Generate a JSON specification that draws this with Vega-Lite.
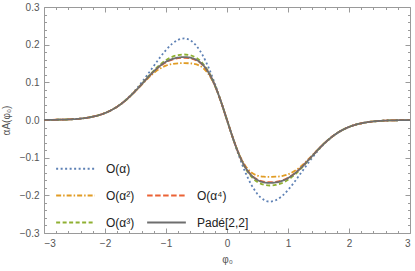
{
  "$schema": "https://vega.github.io/schema/vega-lite/v6.json",
  "width": 366,
  "height": 226,
  "autosize": "none",
  "padding": {"left": 44, "top": 7, "right": 5, "bottom": 38},
  "config": {
    "view": {"stroke": "#9a9a9a", "strokeWidth": 1},
    "axis": {"grid": false, "labelFont": "Liberation Sans", "titleFont": "Liberation Sans", "labelFontSize": 10, "titleFontSize": 10, "labelColor": "#555555", "titleColor": "#555555", "titleFontWeight": "normal", "tickColor": "#9a9a9a", "domain": false},
    "legend": {"labelFont": "Liberation Sans"}
  },
  "data": {"values": [
    {"p":-3,"v":0.0002,"s":"a1"},{"p":-2.8,"v":0.0006,"s":"a1"},{"p":-2.6,"v":0.0015,"s":"a1"},{"p":-2.4,"v":0.0038,"s":"a1"},{"p":-2.3,"v":0.0059,"s":"a1"},{"p":-2.2,"v":0.0088,"s":"a1"},{"p":-2.1,"v":0.0129,"s":"a1"},{"p":-2,"v":0.0185,"s":"a1"},{"p":-1.9,"v":0.026,"s":"a1"},{"p":-1.8,"v":0.0356,"s":"a1"},{"p":-1.7,"v":0.0477,"s":"a1"},{"p":-1.6,"v":0.0625,"s":"a1"},{"p":-1.5,"v":0.0798,"s":"a1"},{"p":-1.4,"v":0.0996,"s":"a1"},{"p":-1.3,"v":0.1211,"s":"a1"},{"p":-1.2,"v":0.1436,"s":"a1"},{"p":-1.1,"v":0.1657,"s":"a1"},{"p":-1,"v":0.1858,"s":"a1"},{"p":-0.9,"v":0.2022,"s":"a1"},{"p":-0.8,"v":0.213,"s":"a1"},{"p":-0.7,"v":0.2166,"s":"a1"},{"p":-0.6,"v":0.2114,"s":"a1"},{"p":-0.5,"v":0.1967,"s":"a1"},{"p":-0.4,"v":0.1721,"s":"a1"},{"p":-0.3,"v":0.1385,"s":"a1"},{"p":-0.2,"v":0.097,"s":"a1"},{"p":-0.1,"v":0.05,"s":"a1"},{"p":0,"v":0,"s":"a1"},
    {"p":0.1,"v":-0.05,"s":"a1"},{"p":0.2,"v":-0.097,"s":"a1"},{"p":0.3,"v":-0.1385,"s":"a1"},{"p":0.4,"v":-0.1721,"s":"a1"},{"p":0.5,"v":-0.1967,"s":"a1"},{"p":0.6,"v":-0.2114,"s":"a1"},{"p":0.7,"v":-0.2166,"s":"a1"},{"p":0.8,"v":-0.213,"s":"a1"},{"p":0.9,"v":-0.2022,"s":"a1"},{"p":1,"v":-0.1858,"s":"a1"},{"p":1.1,"v":-0.1657,"s":"a1"},{"p":1.2,"v":-0.1436,"s":"a1"},{"p":1.3,"v":-0.1211,"s":"a1"},{"p":1.4,"v":-0.0996,"s":"a1"},{"p":1.5,"v":-0.0798,"s":"a1"},{"p":1.6,"v":-0.0625,"s":"a1"},{"p":1.7,"v":-0.0477,"s":"a1"},{"p":1.8,"v":-0.0356,"s":"a1"},{"p":1.9,"v":-0.026,"s":"a1"},{"p":2,"v":-0.0185,"s":"a1"},{"p":2.1,"v":-0.0129,"s":"a1"},{"p":2.2,"v":-0.0088,"s":"a1"},{"p":2.3,"v":-0.0059,"s":"a1"},{"p":2.4,"v":-0.0038,"s":"a1"},{"p":2.6,"v":-0.0015,"s":"a1"},{"p":2.8,"v":-0.0006,"s":"a1"},{"p":3,"v":-0.0002,"s":"a1"},

    {"p":-3,"v":0.0002,"s":"a2"},{"p":-2.8,"v":0.0006,"s":"a2"},{"p":-2.6,"v":0.0015,"s":"a2"},{"p":-2.4,"v":0.0038,"s":"a2"},{"p":-2.3,"v":0.0059,"s":"a2"},{"p":-2.2,"v":0.0088,"s":"a2"},{"p":-2.1,"v":0.0129,"s":"a2"},{"p":-2,"v":0.0185,"s":"a2"},{"p":-1.9,"v":0.0258,"s":"a2"},{"p":-1.8,"v":0.0353,"s":"a2"},{"p":-1.7,"v":0.047,"s":"a2"},{"p":-1.6,"v":0.0609,"s":"a2"},{"p":-1.5,"v":0.0766,"s":"a2"},{"p":-1.4,"v":0.0932,"s":"a2"},{"p":-1.3,"v":0.1097,"s":"a2"},{"p":-1.2,"v":0.1245,"s":"a2"},{"p":-1.1,"v":0.1363,"s":"a2"},{"p":-1,"v":0.1444,"s":"a2"},{"p":-0.9,"v":0.1488,"s":"a2"},{"p":-0.8,"v":0.1506,"s":"a2"},{"p":-0.7,"v":0.151,"s":"a2"},{"p":-0.6,"v":0.1504,"s":"a2"},{"p":-0.5,"v":0.1475,"s":"a2"},{"p":-0.4,"v":0.1392,"s":"a2"},{"p":-0.3,"v":0.1213,"s":"a2"},{"p":-0.2,"v":0.0911,"s":"a2"},{"p":-0.1,"v":0.0492,"s":"a2"},{"p":0,"v":0,"s":"a2"},
    {"p":0.1,"v":-0.0492,"s":"a2"},{"p":0.2,"v":-0.0911,"s":"a2"},{"p":0.3,"v":-0.1213,"s":"a2"},{"p":0.4,"v":-0.1392,"s":"a2"},{"p":0.5,"v":-0.1475,"s":"a2"},{"p":0.6,"v":-0.1504,"s":"a2"},{"p":0.7,"v":-0.151,"s":"a2"},{"p":0.8,"v":-0.1506,"s":"a2"},{"p":0.9,"v":-0.1488,"s":"a2"},{"p":1,"v":-0.1444,"s":"a2"},{"p":1.1,"v":-0.1363,"s":"a2"},{"p":1.2,"v":-0.1245,"s":"a2"},{"p":1.3,"v":-0.1097,"s":"a2"},{"p":1.4,"v":-0.0932,"s":"a2"},{"p":1.5,"v":-0.0766,"s":"a2"},{"p":1.6,"v":-0.0609,"s":"a2"},{"p":1.7,"v":-0.047,"s":"a2"},{"p":1.8,"v":-0.0353,"s":"a2"},{"p":1.9,"v":-0.0258,"s":"a2"},{"p":2,"v":-0.0185,"s":"a2"},{"p":2.1,"v":-0.0129,"s":"a2"},{"p":2.2,"v":-0.0088,"s":"a2"},{"p":2.3,"v":-0.0059,"s":"a2"},{"p":2.4,"v":-0.0038,"s":"a2"},{"p":2.6,"v":-0.0015,"s":"a2"},{"p":2.8,"v":-0.0006,"s":"a2"},{"p":3,"v":-0.0002,"s":"a2"},

    {"p":-3,"v":0.0002,"s":"a3"},{"p":-2.8,"v":0.0006,"s":"a3"},{"p":-2.6,"v":0.0015,"s":"a3"},{"p":-2.4,"v":0.0038,"s":"a3"},{"p":-2.3,"v":0.0059,"s":"a3"},{"p":-2.2,"v":0.0088,"s":"a3"},{"p":-2.1,"v":0.0129,"s":"a3"},{"p":-2,"v":0.0185,"s":"a3"},{"p":-1.9,"v":0.0259,"s":"a3"},{"p":-1.8,"v":0.0354,"s":"a3"},{"p":-1.7,"v":0.0473,"s":"a3"},{"p":-1.6,"v":0.0614,"s":"a3"},{"p":-1.5,"v":0.0777,"s":"a3"},{"p":-1.4,"v":0.0954,"s":"a3"},{"p":-1.3,"v":0.1137,"s":"a3"},{"p":-1.2,"v":0.1312,"s":"a3"},{"p":-1.1,"v":0.1466,"s":"a3"},{"p":-1,"v":0.1589,"s":"a3"},{"p":-0.9,"v":0.1675,"s":"a3"},{"p":-0.8,"v":0.1724,"s":"a3"},{"p":-0.7,"v":0.1739,"s":"a3"},{"p":-0.6,"v":0.1717,"s":"a3"},{"p":-0.5,"v":0.1647,"s":"a3"},{"p":-0.4,"v":0.1507,"s":"a3"},{"p":-0.3,"v":0.1273,"s":"a3"},{"p":-0.2,"v":0.0932,"s":"a3"},{"p":-0.1,"v":0.0495,"s":"a3"},{"p":0,"v":0,"s":"a3"},
    {"p":0.1,"v":-0.0495,"s":"a3"},{"p":0.2,"v":-0.0932,"s":"a3"},{"p":0.3,"v":-0.1273,"s":"a3"},{"p":0.4,"v":-0.1507,"s":"a3"},{"p":0.5,"v":-0.1647,"s":"a3"},{"p":0.6,"v":-0.1717,"s":"a3"},{"p":0.7,"v":-0.1739,"s":"a3"},{"p":0.8,"v":-0.1724,"s":"a3"},{"p":0.9,"v":-0.1675,"s":"a3"},{"p":1,"v":-0.1589,"s":"a3"},{"p":1.1,"v":-0.1466,"s":"a3"},{"p":1.2,"v":-0.1312,"s":"a3"},{"p":1.3,"v":-0.1137,"s":"a3"},{"p":1.4,"v":-0.0954,"s":"a3"},{"p":1.5,"v":-0.0777,"s":"a3"},{"p":1.6,"v":-0.0614,"s":"a3"},{"p":1.7,"v":-0.0473,"s":"a3"},{"p":1.8,"v":-0.0354,"s":"a3"},{"p":1.9,"v":-0.0259,"s":"a3"},{"p":2,"v":-0.0185,"s":"a3"},{"p":2.1,"v":-0.0129,"s":"a3"},{"p":2.2,"v":-0.0088,"s":"a3"},{"p":2.3,"v":-0.0059,"s":"a3"},{"p":2.4,"v":-0.0038,"s":"a3"},{"p":2.6,"v":-0.0015,"s":"a3"},{"p":2.8,"v":-0.0006,"s":"a3"},{"p":3,"v":-0.0002,"s":"a3"},

    {"p":-3,"v":0.0002,"s":"a4"},{"p":-2.8,"v":0.0006,"s":"a4"},{"p":-2.6,"v":0.0015,"s":"a4"},{"p":-2.4,"v":0.0038,"s":"a4"},{"p":-2.3,"v":0.0059,"s":"a4"},{"p":-2.2,"v":0.0088,"s":"a4"},{"p":-2.1,"v":0.0129,"s":"a4"},{"p":-2,"v":0.0185,"s":"a4"},{"p":-1.9,"v":0.0259,"s":"a4"},{"p":-1.8,"v":0.0354,"s":"a4"},{"p":-1.7,"v":0.0472,"s":"a4"},{"p":-1.6,"v":0.0612,"s":"a4"},{"p":-1.5,"v":0.0773,"s":"a4"},{"p":-1.4,"v":0.0946,"s":"a4"},{"p":-1.3,"v":0.1121,"s":"a4"},{"p":-1.2,"v":0.1286,"s":"a4"},{"p":-1.1,"v":0.1426,"s":"a4"},{"p":-1,"v":0.1533,"s":"a4"},{"p":-0.9,"v":0.1603,"s":"a4"},{"p":-0.8,"v":0.164,"s":"a4"},{"p":-0.7,"v":0.165,"s":"a4"},{"p":-0.6,"v":0.1635,"s":"a4"},{"p":-0.5,"v":0.1581,"s":"a4"},{"p":-0.4,"v":0.1463,"s":"a4"},{"p":-0.3,"v":0.125,"s":"a4"},{"p":-0.2,"v":0.0924,"s":"a4"},{"p":-0.1,"v":0.0494,"s":"a4"},{"p":0,"v":0,"s":"a4"},
    {"p":0.1,"v":-0.0494,"s":"a4"},{"p":0.2,"v":-0.0924,"s":"a4"},{"p":0.3,"v":-0.125,"s":"a4"},{"p":0.4,"v":-0.1463,"s":"a4"},{"p":0.5,"v":-0.1581,"s":"a4"},{"p":0.6,"v":-0.1635,"s":"a4"},{"p":0.7,"v":-0.165,"s":"a4"},{"p":0.8,"v":-0.164,"s":"a4"},{"p":0.9,"v":-0.1603,"s":"a4"},{"p":1,"v":-0.1533,"s":"a4"},{"p":1.1,"v":-0.1426,"s":"a4"},{"p":1.2,"v":-0.1286,"s":"a4"},{"p":1.3,"v":-0.1121,"s":"a4"},{"p":1.4,"v":-0.0946,"s":"a4"},{"p":1.5,"v":-0.0773,"s":"a4"},{"p":1.6,"v":-0.0612,"s":"a4"},{"p":1.7,"v":-0.0472,"s":"a4"},{"p":1.8,"v":-0.0354,"s":"a4"},{"p":1.9,"v":-0.0259,"s":"a4"},{"p":2,"v":-0.0185,"s":"a4"},{"p":2.1,"v":-0.0129,"s":"a4"},{"p":2.2,"v":-0.0088,"s":"a4"},{"p":2.3,"v":-0.0059,"s":"a4"},{"p":2.4,"v":-0.0038,"s":"a4"},{"p":2.6,"v":-0.0015,"s":"a4"},{"p":2.8,"v":-0.0006,"s":"a4"},{"p":3,"v":-0.0002,"s":"a4"},

    {"p":-3,"v":0.0002,"s":"pd"},{"p":-2.8,"v":0.0006,"s":"pd"},{"p":-2.6,"v":0.0015,"s":"pd"},{"p":-2.4,"v":0.0038,"s":"pd"},{"p":-2.3,"v":0.0059,"s":"pd"},{"p":-2.2,"v":0.0088,"s":"pd"},{"p":-2.1,"v":0.0129,"s":"pd"},{"p":-2,"v":0.0185,"s":"pd"},{"p":-1.9,"v":0.0259,"s":"pd"},{"p":-1.8,"v":0.0354,"s":"pd"},{"p":-1.7,"v":0.0472,"s":"pd"},{"p":-1.6,"v":0.0613,"s":"pd"},{"p":-1.5,"v":0.0774,"s":"pd"},{"p":-1.4,"v":0.0948,"s":"pd"},{"p":-1.3,"v":0.1125,"s":"pd"},{"p":-1.2,"v":0.1291,"s":"pd"},{"p":-1.1,"v":0.1435,"s":"pd"},{"p":-1,"v":0.1545,"s":"pd"},{"p":-0.9,"v":0.1618,"s":"pd"},{"p":-0.8,"v":0.1658,"s":"pd"},{"p":-0.7,"v":0.167,"s":"pd"},{"p":-0.6,"v":0.1653,"s":"pd"},{"p":-0.5,"v":0.1595,"s":"pd"},{"p":-0.4,"v":0.1472,"s":"pd"},{"p":-0.3,"v":0.1255,"s":"pd"},{"p":-0.2,"v":0.0926,"s":"pd"},{"p":-0.1,"v":0.0494,"s":"pd"},{"p":0,"v":0,"s":"pd"},
    {"p":0.1,"v":-0.0494,"s":"pd"},{"p":0.2,"v":-0.0926,"s":"pd"},{"p":0.3,"v":-0.1255,"s":"pd"},{"p":0.4,"v":-0.1472,"s":"pd"},{"p":0.5,"v":-0.1595,"s":"pd"},{"p":0.6,"v":-0.1653,"s":"pd"},{"p":0.7,"v":-0.167,"s":"pd"},{"p":0.8,"v":-0.1658,"s":"pd"},{"p":0.9,"v":-0.1618,"s":"pd"},{"p":1,"v":-0.1545,"s":"pd"},{"p":1.1,"v":-0.1435,"s":"pd"},{"p":1.2,"v":-0.1291,"s":"pd"},{"p":1.3,"v":-0.1125,"s":"pd"},{"p":1.4,"v":-0.0948,"s":"pd"},{"p":1.5,"v":-0.0774,"s":"pd"},{"p":1.6,"v":-0.0613,"s":"pd"},{"p":1.7,"v":-0.0472,"s":"pd"},{"p":1.8,"v":-0.0354,"s":"pd"},{"p":1.9,"v":-0.0259,"s":"pd"},{"p":2,"v":-0.0185,"s":"pd"},{"p":2.1,"v":-0.0129,"s":"pd"},{"p":2.2,"v":-0.0088,"s":"pd"},{"p":2.3,"v":-0.0059,"s":"pd"},{"p":2.4,"v":-0.0038,"s":"pd"},{"p":2.6,"v":-0.0015,"s":"pd"},{"p":2.8,"v":-0.0006,"s":"pd"},{"p":3,"v":-0.0002,"s":"pd"}
  ]},
  "layer": [
    {
      "mark": {"type": "line", "interpolate": "monotone", "strokeWidth": 1.8},
      "encoding": {
        "x": {"field": "p", "type": "quantitative", "scale": {"domain": [-3, 3], "nice": false},
              "axis": {"orient": "bottom", "values": [-3,-2,-1,0,1,2,3], "format": "d", "ticks": false, "labelPadding": 5, "title": "φ₀", "titlePadding": 6}},
        "y": {"field": "v", "type": "quantitative", "scale": {"domain": [-0.3, 0.3], "nice": false},
              "axis": {"orient": "left", "values": [-0.3,-0.2,-0.1,0,0.1,0.2,0.3], "format": ".1f", "ticks": false, "labelPadding": 5, "title": "αA(φ₀)", "titlePadding": 8}},
        "color": {"field": "s", "type": "nominal",
                  "scale": {"domain": ["a1","a2","a3","_","a4","pd"], "range": ["#5E81B5","#E19C24","#8FB032","rgba(0,0,0,0)","#EB6235","#6E6E6E"]},
                  "legend": {"orient": "none", "legendX": 11, "legendY": 141, "columns": 2, "title": null, "padding": 0,
                             "symbolType": "stroke", "symbolSize": 1500, "symbolStrokeWidth": 1.8,
                             "rowPadding": -23, "columnPadding": 8, "labelOffset": 10,
                             "labelFontSize": 12, "labelColor": "#222222",
                             "labelExpr": "{'a1':'O(α)','_':'','a2':'O(α²)','a3':'O(α³)','a4':'O(α⁴)','pd':'Padé[2,2]'}[datum.label]"}},
        "strokeDash": {"field": "s", "type": "nominal",
                       "scale": {"domain": ["a1","a2","a3","_","a4","pd"], "range": [[2,2.5],[5,2,1.5,2],[4,2.5],[1,0],[5.5,2.5],[1,0]]}},
        "order": {"field": "p", "type": "quantitative"}
      }
    },
    {
      "mark": {"type": "point", "opacity": 0},
      "encoding": {
        "x": {"field": "p", "type": "quantitative", "scale": {"domain": [-3, 3], "nice": false},
              "axis": {"orient": "top", "values": [-3,-2,-1,0,1,2,3], "labels": false, "tickSize": -5, "title": null}},
        "y": {"field": "v", "type": "quantitative", "scale": {"domain": [-0.3, 0.3], "nice": false},
              "axis": {"orient": "right", "values": [-0.3,-0.2,-0.1,0,0.1,0.2,0.3], "labels": false, "tickSize": -5, "title": null}}
      }
    },
    {
      "mark": {"type": "point", "opacity": 0},
      "encoding": {
        "x": {"field": "p", "type": "quantitative", "scale": {"domain": [-3, 3], "nice": false},
              "axis": {"orient": "bottom", "values": [-3,-2,-1,0,1,2,3], "labels": false, "tickSize": -5, "title": null}},
        "y": {"field": "v", "type": "quantitative", "scale": {"domain": [-0.3, 0.3], "nice": false},
              "axis": {"orient": "left", "values": [-0.3,-0.2,-0.1,0,0.1,0.2,0.3], "labels": false, "tickSize": -5, "title": null}}
      }
    },
    {
      "mark": {"type": "point", "opacity": 0},
      "encoding": {
        "x": {"field": "p", "type": "quantitative", "scale": {"domain": [-3, 3], "nice": false},
              "axis": {"orient": "bottom", "values": [-2.8,-2.6,-2.4,-2.2,-1.8,-1.6,-1.4,-1.2,-0.8,-0.6,-0.4,-0.2,0.2,0.4,0.6,0.8,1.2,1.4,1.6,1.8,2.2,2.4,2.6,2.8], "labels": false, "tickSize": -2.5, "title": null}},
        "y": {"field": "v", "type": "quantitative", "scale": {"domain": [-0.3, 0.3], "nice": false},
              "axis": {"orient": "left", "values": [-0.28,-0.26,-0.24,-0.22,-0.18,-0.16,-0.14,-0.12,-0.08,-0.06,-0.04,-0.02,0.02,0.04,0.06,0.08,0.12,0.14,0.16,0.18,0.22,0.24,0.26,0.28], "labels": false, "tickSize": -2.5, "title": null}}
      }
    },
    {
      "mark": {"type": "point", "opacity": 0},
      "encoding": {
        "x": {"field": "p", "type": "quantitative", "scale": {"domain": [-3, 3], "nice": false},
              "axis": {"orient": "top", "values": [-2.8,-2.6,-2.4,-2.2,-1.8,-1.6,-1.4,-1.2,-0.8,-0.6,-0.4,-0.2,0.2,0.4,0.6,0.8,1.2,1.4,1.6,1.8,2.2,2.4,2.6,2.8], "labels": false, "tickSize": -2.5, "title": null}},
        "y": {"field": "v", "type": "quantitative", "scale": {"domain": [-0.3, 0.3], "nice": false},
              "axis": {"orient": "right", "values": [-0.28,-0.26,-0.24,-0.22,-0.18,-0.16,-0.14,-0.12,-0.08,-0.06,-0.04,-0.02,0.02,0.04,0.06,0.08,0.12,0.14,0.16,0.18,0.22,0.24,0.26,0.28], "labels": false, "tickSize": -2.5, "title": null}}
      }
    }
  ]
}
